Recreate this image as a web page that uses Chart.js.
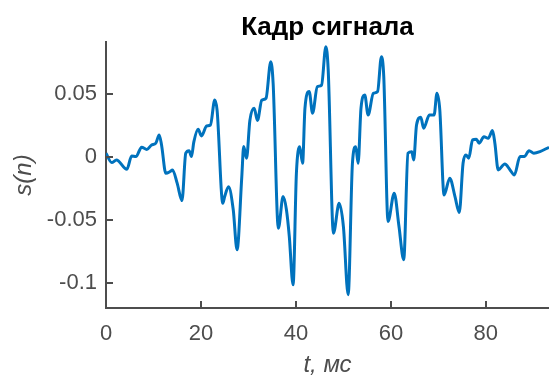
<!DOCTYPE html>
<html>
<head>
<meta charset="utf-8">
<script src="https://cdn.jsdelivr.net/npm/chart.js@4"></script>
<style>
  html, body { margin: 0; padding: 0; background: #fff; }
  #wrap { width: 549px; height: 381px; }
</style>
</head>
<body>
<div id="wrap"><canvas id="grafica"></canvas></div>
<script>
// время, мс
const tiempos = [0, 1.2, 2.2, 4.4, 5.4, 6.3, 7.5, 8.6, 9.6, 10.5, 11.2, 11.7, 12.6, 13.5, 14, 15, 16, 16.8, 17.5, 18,
  18.5, 19.4, 20.1, 21.2, 22, 22.9, 23.4, 24.6, 25, 25.8, 26.8, 27.6, 28.6, 29, 29.6, 30.3, 31.2, 31.9, 32.8, 33.7,
  34.7, 35.2, 36.3, 37.3, 38, 38.6, 39.4, 40.1, 40.8, 41.4, 41.9, 42.8, 43.5, 44.5, 45.4, 46.3, 46.8, 47.9, 49.1, 50,
  51, 51.9, 52.6, 53.1, 53.7, 54.5, 55.2, 56.3, 57.2, 58, 58.5, 59.4, 60.7, 61.7, 62.7, 63.6, 64.4, 64.8, 65.4, 66.3,
  66.9, 68.1, 69.1, 69.7, 70.3, 71.2, 72.4, 73.5, 74.4, 75.2, 75.8, 76.4, 77.2, 78, 78.6, 79.6, 80.5, 81.4, 81.9, 82.6,
  84, 85.1, 86, 87.2, 88.1, 89.1, 90.1, 91.4, 93.3];

// s(n)
const senal = [0.003, -0.0045, -0.0024, -0.0098, 0.0008, 0.0003, 0.0077, 0.006, 0.0095, 0.011, 0.0175, 0.0095, -0.013,
  -0.0116, -0.0103, -0.021, -0.0347, 0.003, 0.005, 0.0003, 0.012, 0.022, 0.0167, 0.0246, 0.0254, 0.0452, 0.037,
  -0.0368, -0.0315, -0.0236, -0.042, -0.0738, -0.0156, 0.0082, -0.001, 0.029, 0.0386, 0.029, 0.045, 0.0466, 0.0757,
  0.0585, -0.0566, -0.0315, -0.042, -0.063, -0.1016, -0.013, 0.008, -0.005, 0.0386, 0.0519, 0.0347, 0.0558, 0.0571,
  0.0876, 0.069, -0.0606, -0.0368, -0.0553, -0.1095, -0.005, 0.008, -0.005, 0.0386, 0.0492, 0.0333, 0.0505, 0.0519,
  0.0796, 0.0638, -0.0513, -0.0288, -0.055, -0.0817, 0.003, 0.0042, -0.0024, 0.0254, 0.0315, 0.0227, 0.0333, 0.0333,
  0.0505, 0.0373, -0.0302, -0.0169, -0.0315, -0.0442, -0.005, 0.0016, -0.001, 0.0135, 0.014, 0.0109, 0.0161, 0.0148,
  0.0209, 0.0109, -0.0103, -0.0056, -0.0103, -0.0143, 0.0003, 0.0003, 0.005, 0.003, 0.0042, 0.0077];

const ticks_x = [0, 20, 40, 60, 80];
const ticks_y = [-0.1, -0.05, 0, 0.05];
const etiquetas_y = ["-0.1", "-0.05", "0", "0.05"];

const titulo = "Кадр сигнала";
const titulo_x = "t, мс";
const titulo_y = "s(n)";

const gris = "#4d4d4d";
const fuente = "'Liberation Sans', Arial, sans-serif";

// MATLAB-style inward ticks + title centred over the axes
const estiloMatlab = {
  id: "estiloMatlab",
  afterDraw(chart) {
    const { ctx, chartArea, scales } = chart;
    ctx.save();
    ctx.strokeStyle = gris;
    ctx.lineWidth = 2;
    ctx.beginPath();
    ticks_y.forEach((v) => {
      const y = Math.round(scales.y.getPixelForValue(v));
      ctx.moveTo(chartArea.left, y);
      ctx.lineTo(chartArea.left + 7, y);
    });
    ticks_x.forEach((v) => {
      const x = Math.round(scales.x.getPixelForValue(v));
      ctx.moveTo(x, chartArea.bottom);
      ctx.lineTo(x, chartArea.bottom - 7);
    });
    ctx.stroke();

    ctx.fillStyle = "#000";
    ctx.font = "bold 26px " + fuente;
    ctx.textAlign = "center";
    ctx.textBaseline = "alphabetic";
    ctx.fillText(titulo, (chartArea.left + chartArea.right) / 2, 35);
    ctx.restore();
  },
};

const ctx = document.getElementById("grafica").getContext("2d");

new Chart(ctx, {
  type: "line",
  data: {
    datasets: [
      {
        data: tiempos.map((t, i) => ({ x: t, y: senal[i] })),
        borderColor: "#0072BD",
        borderWidth: 3,
        pointRadius: 0,
        cubicInterpolationMode: "monotone",
        borderJoinStyle: "round",
        fill: false,
      },
    ],
  },
  options: {
    responsive: true,
    maintainAspectRatio: false,
    animation: false,
    layout: { padding: { top: 42, right: 0, bottom: 0, left: 0 } },
    plugins: {
      legend: { display: false },
      tooltip: { enabled: false },
      title: { display: false },
    },
    scales: {
      x: {
        type: "linear",
        min: 0,
        max: 93.3,
        afterFit: (s) => { s.height = 73; },
        afterBuildTicks: (s) => { s.ticks = ticks_x.map((v) => ({ value: v })); },
        grid: { display: false, drawTicks: false },
        border: { display: true, color: gris, width: 2 },
        ticks: {
          color: gris,
          padding: 13,
          maxRotation: 0,
          font: { family: fuente, size: 22 },
        },
        title: {
          display: true,
          text: titulo_x,
          color: gris,
          padding: { top: 0, bottom: 1 },
          font: { family: fuente, size: 24, style: "italic" },
        },
      },
      y: {
        type: "linear",
        min: -0.12,
        max: 0.0913,
        afterFit: (s) => { s.width = 106; },
        afterBuildTicks: (s) => { s.ticks = ticks_y.map((v) => ({ value: v })); },
        grid: { display: false, drawTicks: false },
        border: { display: true, color: gris, width: 2 },
        ticks: {
          color: gris,
          padding: 9,
          font: { family: fuente, size: 22 },
          callback: (v) => etiquetas_y[ticks_y.indexOf(v)] ?? "",
        },
        title: {
          display: true,
          text: titulo_y,
          color: gris,
          padding: { top: 10, bottom: 0 },
          font: { family: fuente, size: 24, style: "italic" },
        },
      },
    },
  },
  plugins: [estiloMatlab],
});
</script>
</body>
</html>
